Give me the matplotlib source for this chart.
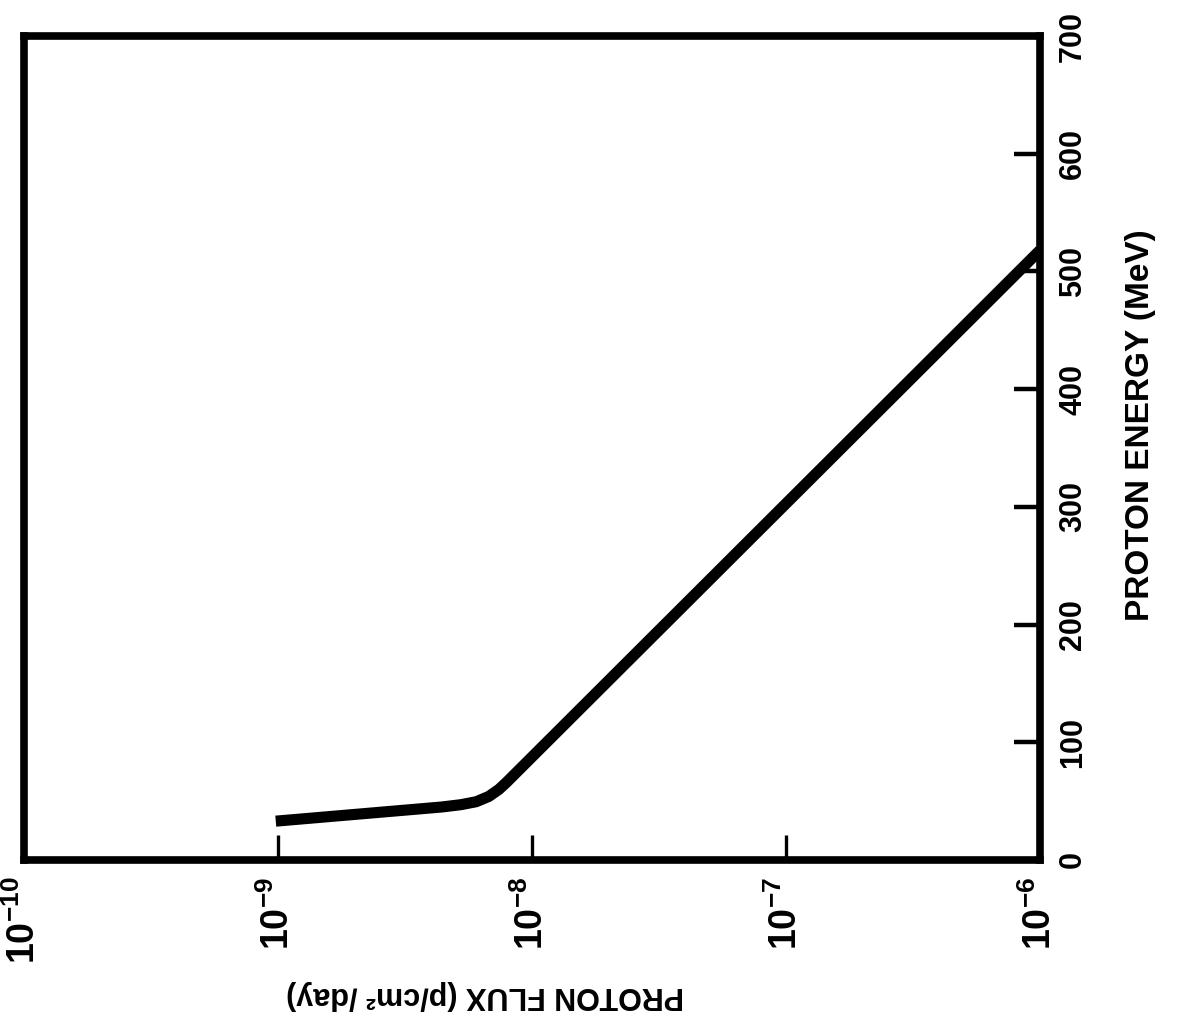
import matplotlib
matplotlib.use("Agg")
import matplotlib.pyplot as plt
from matplotlib.ticker import NullLocator

# Proton flux (p/cm^2/day) and the matching proton energy (MeV)
flux = [9.8e-10, 4.4e-9, 5.25e-9, 6.03e-9, 6.76e-9, 7.41e-9, 7.94e-9, 1.0e-6]
energy = [33, 45, 47, 49.5, 54, 60, 66, 518]

flux_ticks = [1e-10, 1e-9, 1e-8, 1e-7, 1e-6]
flux_tick_labels = [r"$\mathbf{10^{-10}}$", r"$\mathbf{10^{-9}}$",
                    r"$\mathbf{10^{-8}}$", r"$\mathbf{10^{-7}}$",
                    r"$\mathbf{10^{-6}}$"]
energy_ticks = [0, 100, 200, 300, 400, 500, 600, 700]
energy_tick_labels = ["0", "100", "200", "300", "400", "500", "600", "700"]

plt.rcParams["font.family"] = ["Liberation Sans", "DejaVu Sans"]
plt.rcParams["font.weight"] = "bold"
plt.rcParams["mathtext.fontset"] = "custom"
plt.rcParams["mathtext.rm"] = "Liberation Sans:bold"
plt.rcParams["mathtext.bf"] = "Liberation Sans:bold"
plt.rcParams["mathtext.it"] = "Liberation Sans:bold"

W, H = 1184, 1027
fig = plt.figure(figsize=(W / 100, H / 100), dpi=100)
left, right, top, bottom = 24, 1040, 36, 860
ax = fig.add_axes([left / W, 1 - bottom / H, (right - left) / W, (bottom - top) / H])

ax.plot(flux, energy, color="black", lw=8,
        solid_joinstyle="round", solid_capstyle="butt")

ax.set_xscale("log")
ax.set_xlim(1e-10, 1e-6)
ax.set_ylim(0, 700)

for s in ax.spines.values():
    s.set_linewidth(5.5)

# flux axis along the bottom, labels turned on their side
ax.xaxis.set_minor_locator(NullLocator())
ax.set_xticks(flux_ticks)
ax.set_xticklabels(flux_tick_labels, rotation=90, fontsize=27)
ax.tick_params(axis="x", direction="in", length=18, width=2.4, pad=12)

# energy axis on the right side
ax.yaxis.tick_right()
ax.set_yticks(energy_ticks)
ax.set_yticklabels(energy_tick_labels, rotation=90, va="center", fontsize=22)
ax.tick_params(axis="y", direction="in", length=19, width=3.2, pad=13)

fig.text(1140 / W, 1 - 425 / H, "PROTON ENERGY (MeV)", rotation=90,
         ha="center", va="center", fontsize=24, fontweight="bold")
fig.text(485 / W, 1 - 995 / H, "PROTON FLUX (p/cm² /day)", rotation=180,
         ha="center", va="center", fontsize=22, fontweight="bold")

fig.savefig("out.png", dpi=100, facecolor="white")
